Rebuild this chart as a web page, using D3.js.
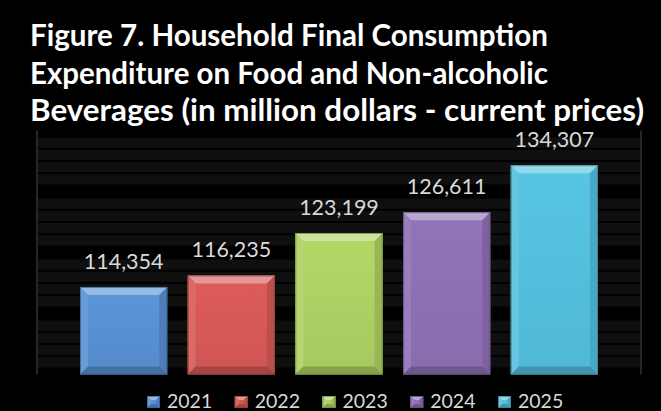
<!DOCTYPE html>
<html>
<head>
<meta charset="utf-8">
<script src="https://cdn.jsdelivr.net/npm/d3@7"></script>
<style>
  html, body { margin: 0; padding: 0; background: #000; }
  svg { display: block; }
</style>
</head>
<body>
<svg id="chart" width="661" height="411"></svg>
<script>
// Household final consumption expenditure on food and non-alcoholic beverages
const titleLines = [
  "Figure 7. Household Final Consumption",
  "Expenditure on Food and Non-alcoholic",
  "Beverages (in million dollars - current prices)"
];
const titleWidths = [518, 518, 614];
const years = ["2021", "2022", "2023", "2024", "2025"];
const values = [114354, 116235, 123199, 126611, 134307];
const baseColors = ["#4f81bd", "#c0504d", "#9bbb59", "#8064a2", "#4bacc6"];
const yDomain = [100000, 140000];
const gridStep = 2000;

const W = 661, H = 411;
const plot = { left: 37, right: 641, top: 130.5, bottom: 374.5 };

const svg = d3.select("#chart");
svg.append("rect").attr("width", W).attr("height", H).attr("fill", "#000");

const x = d3.scaleBand().domain(years).range([80, 598]).paddingInner(0.19).paddingOuter(0);
const y = d3.scaleLinear().domain(yDomain).range([plot.bottom, plot.top]);

// Striped plot background: one band per grid step, darker at every 10,000
const bandCenters = d3.range(yDomain[0], yDomain[1] + 1, gridStep);
const bandTop = d => Math.max(plot.top, y(Math.min(yDomain[1], d + gridStep / 2))) + 1;
const bandBot = d => Math.min(plot.bottom, y(Math.max(yDomain[0], d - gridStep / 2))) - 1;
svg.append("g").selectAll("rect").data(bandCenters).join("rect")
  .attr("x", plot.left + 1)
  .attr("width", plot.right - plot.left - 2)
  .attr("y", d => bandTop(d))
  .attr("height", d => Math.max(0, bandBot(d) - bandTop(d)))
  .attr("fill", d => d % 10000 === 0 ? "#000" : "#0f0f0f");

// Plot frame side lines
svg.append("g").selectAll("line").data([plot.left, plot.right]).join("line")
  .attr("x1", d => d).attr("x2", d => d)
  .attr("y1", plot.top).attr("y2", plot.bottom)
  .attr("stroke", "#262626").attr("stroke-width", 2);

// Gradients for bar faces
const defs = svg.append("defs");
baseColors.forEach((c, i) => {
  const face = d3.color(c).brighter(0.3);
  const g = defs.append("linearGradient").attr("id", "face" + i)
    .attr("x1", 0).attr("y1", 0).attr("x2", 0).attr("y2", 1);
  g.append("stop").attr("offset", "0%").attr("stop-color", d3.color(face).brighter(0.1));
  g.append("stop").attr("offset", "100%").attr("stop-color", d3.color(face).darker(0.1));
});

// Beveled bar: face plus four trapezoid edges
function bevel(sel, x0, y0, w, h, color, i, b) {
  const base = d3.color(color).brighter(0.3);
  const x1 = x0 + w, y1 = y0 + h;
  sel.append("rect").attr("x", x0).attr("y", y0).attr("width", w).attr("height", h)
    .attr("fill", `url(#face${i})`);
  const pts = {
    top: [[x0, y0], [x1, y0], [x1 - b, y0 + b], [x0 + b, y0 + b]],
    left: [[x0, y0], [x0 + b, y0 + b], [x0 + b, y1 - b], [x0, y1]],
    right: [[x1, y0], [x1, y1], [x1 - b, y1 - b], [x1 - b, y0 + b]],
    bottom: [[x0, y1], [x0 + b, y1 - b], [x1 - b, y1 - b], [x1, y1]]
  };
  const fills = {
    top: d3.interpolateRgb(base, "#fff")(0.38),
    left: d3.interpolateRgb(base, "#fff")(0.1),
    right: d3.interpolateRgb(base, "#000")(0.12),
    bottom: d3.interpolateRgb(base, "#000")(0.22)
  };
  Object.keys(pts).forEach(k => {
    sel.append("polygon").attr("points", pts[k].map(p => p.join(",")).join(" "))
      .attr("fill", fills[k]);
  });
  sel.append("rect").attr("x", x0 + 0.5).attr("y", y0 + 0.5)
    .attr("width", w - 1).attr("height", h - 1)
    .attr("fill", "none").attr("stroke", d3.color(color).darker(0.8)).attr("stroke-width", 1)
    .attr("stroke-opacity", 0.8);
}

const bars = svg.append("g");
years.forEach((yr, i) => {
  const g = bars.append("g");
  bevel(g, x(yr), y(values[i]), x.bandwidth(), y(yDomain[0]) - y(values[i]), baseColors[i], i, 8);
});

// Value labels
svg.append("g").selectAll("text").data(values).join("text")
  .attr("x", (d, i) => x(years[i]) + x.bandwidth() / 2)
  .attr("y", d => y(d) - 18)
  .attr("text-anchor", "middle")
  .attr("font-family", "Lato, 'Open Sans', sans-serif")
  .attr("font-size", 21.5)
  .attr("fill", "#d9d9d9")
  .text(d => d3.format(",")(d));

// Title
svg.append("g").selectAll("text").data(titleLines).join("text")
  .attr("x", 30)
  .attr("y", (d, i) => 46 + i * 37.5)
  .attr("font-family", "Lato, 'Open Sans', sans-serif")
  .attr("font-weight", "bold")
  .attr("font-size", 30)
  .attr("textLength", (d, i) => titleWidths[i])
  .attr("lengthAdjust", "spacingAndGlyphs")
  .attr("fill", "#fff")
  .text(d => d);

// Legend
const legend = svg.append("g");
years.forEach((yr, i) => {
  const lx = 147 + i * 87.75;
  const g = legend.append("g");
  bevel(g, lx, 396, 13, 12, baseColors[i], i, 4);
  g.append("text").attr("x", lx + 20).attr("y", 408)
    .attr("font-family", "Lato, 'Open Sans', sans-serif")
    .attr("font-size", 19.5)
    .attr("fill", "#d9d9d9")
    .text(yr);
});
</script>
</body>
</html>
